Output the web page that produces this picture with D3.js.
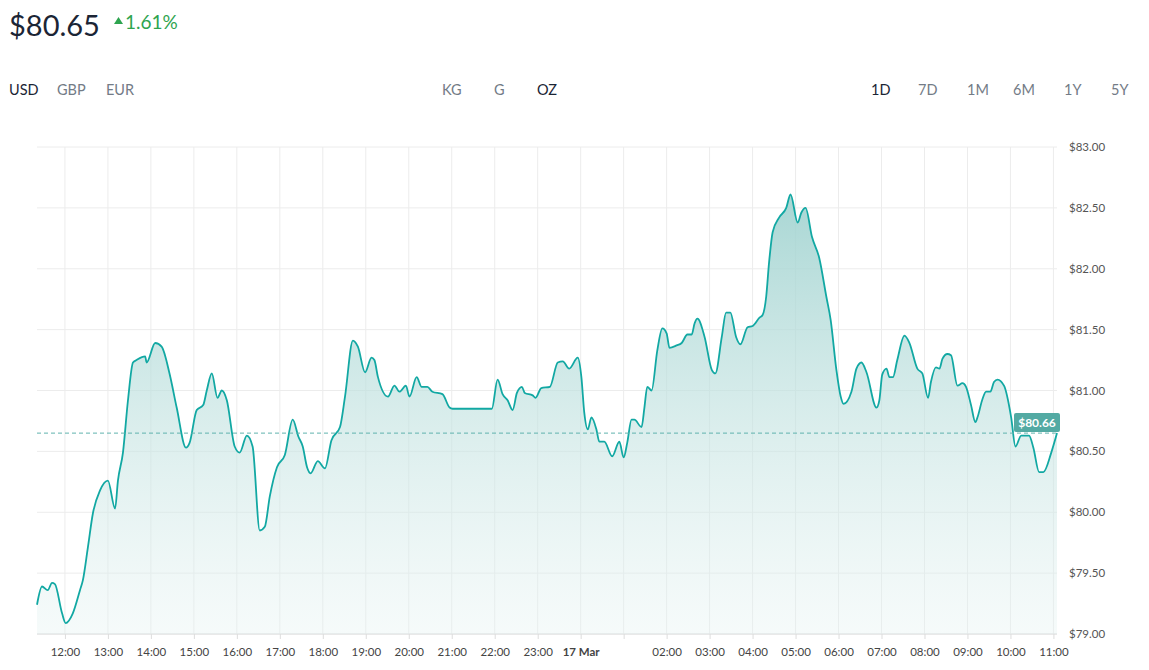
<!DOCTYPE html>
<html>
<head>
<meta charset="utf-8">
<script src="https://cdn.jsdelivr.net/npm/d3@7"></script>
<style>
  body { margin: 0; background: #fff; font-family: "Lato", "Open Sans", sans-serif; }
</style>
</head>
<body>
<svg id="chart" width="1149" height="670"></svg>
<script>
// minutes after 16 Mar 12:00
const minutes = [-39,-32,-24,-18,-14,-4,1,11,21,25,32,39,49,60,70,74,81,88,95,100,112,114,126,135,146,156,169,174,184,193,198,205,213,219,226,237,244,254,262,272,279,286,296,307,318,326,332,338,343,353,363,372,384,391,402,409,419,428,432,437,451,460,467,476,481,491,498,506,513,527,537,541,596,604,611,618,625,631,638,642,653,657,665,677,688,695,704,716,721,725,730,735,742,746,753,764,774,780,785,791,795,805,809,813,819,827,834,840,844,854,861,869,875,879,883,893,903,908,917,923,929,937,943,953,960,970,974,979,983,988,997,1007,1013,1023,1028,1034,1043,1053,1063,1069,1077,1083,1087,1098,1105,1112,1119,1133,1137,1141,1147,1151,1156,1162,1172,1179,1190,1197,1205,1209,1216,1221,1225,1232,1237,1246,1253,1258,1265,1271,1274,1281,1286,1292,1297,1302,1311,1321,1327,1335,1346,1352,1360,1366,1377,1385];
const prices = [79.24,79.39,79.36,79.42,79.41,79.17,79.09,79.17,79.36,79.44,79.71,79.99,80.18,80.26,80.03,80.26,80.49,80.92,81.23,81.25,81.28,81.23,81.39,81.36,81.14,80.86,80.53,80.57,80.84,80.88,81.00,81.14,80.94,81.00,80.92,80.54,80.49,80.63,80.54,79.85,79.88,80.13,80.37,80.47,80.76,80.62,80.54,80.37,80.32,80.42,80.36,80.59,80.70,80.95,81.41,81.36,81.15,81.27,81.25,81.11,80.95,81.04,80.99,81.04,80.95,81.11,81.03,81.03,80.99,80.97,80.86,80.85,80.85,81.09,80.97,80.92,80.84,80.98,81.03,80.98,80.96,80.94,81.02,81.03,81.23,81.24,81.18,81.27,81.11,80.82,80.68,80.78,80.68,80.58,80.58,80.46,80.58,80.45,80.57,80.76,80.76,80.70,80.86,81.03,81.00,81.33,81.51,81.47,81.35,81.37,81.39,81.46,81.46,81.55,81.59,81.44,81.17,81.14,81.44,81.64,81.64,81.44,81.38,81.52,81.53,81.60,81.62,81.77,82.05,82.30,82.42,82.50,82.61,82.38,82.46,82.50,82.26,82.09,81.77,81.58,81.17,80.95,80.89,80.99,81.18,81.23,81.15,80.86,80.92,81.13,81.18,81.11,81.11,81.25,81.45,81.39,81.18,81.14,80.94,81.07,81.19,81.18,81.26,81.30,81.29,81.04,81.06,81.03,80.88,80.74,80.78,80.93,80.99,80.99,81.07,81.09,81.04,80.78,80.54,80.63,80.63,80.53,80.33,80.33,80.49,80.65];
const yTicks = [79, 79.5, 80, 80.5, 81, 81.5, 82, 82.5, 83];
const currencies = ["USD", "GBP", "EUR"];
const units = ["KG", "G", "OZ"];
const ranges = ["1D", "7D", "1M", "6M", "1Y", "5Y"];
const lastPrice = 80.66;
const headline = "$80.65";
const change = "1.61%";

const base = new Date(2024, 2, 16, 12, 0);
const data = minutes.map((m, i) => ({ t: new Date(+base + m * 60000), v: prices[i] }));

const svg = d3.select("#chart");
const plotL = 37, plotR = 1057, plotT = 147, plotB = 634;

const x = d3.scaleTime()
  .domain([new Date(+base - 39 * 60000), new Date(+base + 1385 * 60000)])
  .range([plotL, plotR]);
const y = d3.scaleLinear().domain([79, 83]).range([plotB, plotT]);

// header
svg.append("text").attr("x", 9).attr("y", 36).attr("font-size", 29)
  .attr("fill", "#1b2535").text(headline);
svg.append("path").attr("d", "M114,24 L118.5,17 L123,24 Z").attr("fill", "#2ea44f");
svg.append("text").attr("x", 125).attr("y", 29).attr("font-size", 19)
  .attr("fill", "#2ea44f").text(change);

const navRow = (labels, xs, active) => labels.forEach((l, i) =>
  svg.append("text").attr("x", xs[i]).attr("y", 95).attr("font-size", 14.5)
    .attr("fill", l === active ? "#1b2535" : "#737b86").text(l));
navRow(currencies, [9, 57, 106], "USD");
navRow(units, [442, 494, 537], "OZ");
navRow(ranges, [871, 918, 967, 1013, 1064, 1111], "1D");

// grid
const hours = x.ticks(d3.timeHour.every(1));
svg.append("g").selectAll("line").data(hours).join("line")
  .attr("x1", d => x(d)).attr("x2", d => x(d)).attr("y1", plotT).attr("y2", plotB)
  .attr("stroke", "#ececec");
svg.append("g").selectAll("line").data(yTicks).join("line")
  .attr("x1", plotL).attr("x2", plotR).attr("y1", d => y(d)).attr("y2", d => y(d))
  .attr("stroke-width", d => d === 79 ? 1.5 : 1)
  .attr("stroke", d => d === 79 ? "#e2e2e2" : "#ececec");

// gradient
const grad = svg.append("defs").append("linearGradient").attr("id", "fillGrad")
  .attr("gradientUnits", "userSpaceOnUse")
  .attr("x1", 0).attr("x2", 0).attr("y1", y(82.6)).attr("y2", plotB);
grad.append("stop").attr("offset", 0).attr("stop-color", "#9fd2cf").attr("stop-opacity", 0.9);
grad.append("stop").attr("offset", 1).attr("stop-color", "#e4f2f1").attr("stop-opacity", 0.35);

const area = d3.area().x(d => x(d.t)).y0(plotB).y1(d => y(d.v)).curve(d3.curveMonotoneX);
const line = d3.line().x(d => x(d.t)).y(d => y(d.v)).curve(d3.curveMonotoneX);
svg.append("path").datum(data).attr("d", area).attr("fill", "url(#fillGrad)");
svg.append("path").datum(data).attr("d", line).attr("fill", "none")
  .attr("stroke", "#12a8a3").attr("stroke-width", 1.8);

// current price line
svg.append("line").attr("x1", plotL).attr("x2", plotR)
  .attr("y1", y(80.65)).attr("y2", y(80.65))
  .attr("stroke", "#5fb3ad").attr("stroke-dasharray", "4,3");
svg.append("rect").attr("x", 1014).attr("y", y(80.65) - 20).attr("width", 46).attr("height", 19)
  .attr("rx", 2).attr("fill", "#53aaa3");
svg.append("text").attr("x", 1037).attr("y", y(80.65) - 6).attr("text-anchor", "middle")
  .attr("font-size", 12).attr("font-weight", "bold").attr("fill", "#fff")
  .text("$" + lastPrice.toFixed(2));

// y axis labels
svg.append("g").selectAll("text").data(yTicks).join("text")
  .attr("x", 1069).attr("y", d => y(d) + 4).attr("font-size", 11.5).attr("fill", "#555")
  .text(d => "$" + d.toFixed(2));

// x axis
const xAxis = d3.axisBottom(x).ticks(d3.timeHour.every(1)).tickSize(5)
  .tickFormat(d => d.getHours() === 0 ? "17 Mar" : d.getHours() === 1 ? "" : d3.timeFormat("%H:%M")(d));
const gx = svg.append("g").attr("transform", `translate(0,${plotB})`).call(xAxis);
gx.select(".domain").remove();
gx.selectAll(".tick line").attr("stroke", "#ddd");
gx.selectAll(".tick text").attr("font-size", 11.5).attr("fill", "#444")
  .attr("font-family", "Lato, sans-serif").attr("dy", "1.2em")
  .attr("font-weight", d => d.getHours() === 0 ? "bold" : null);
</script>
</body>
</html>
